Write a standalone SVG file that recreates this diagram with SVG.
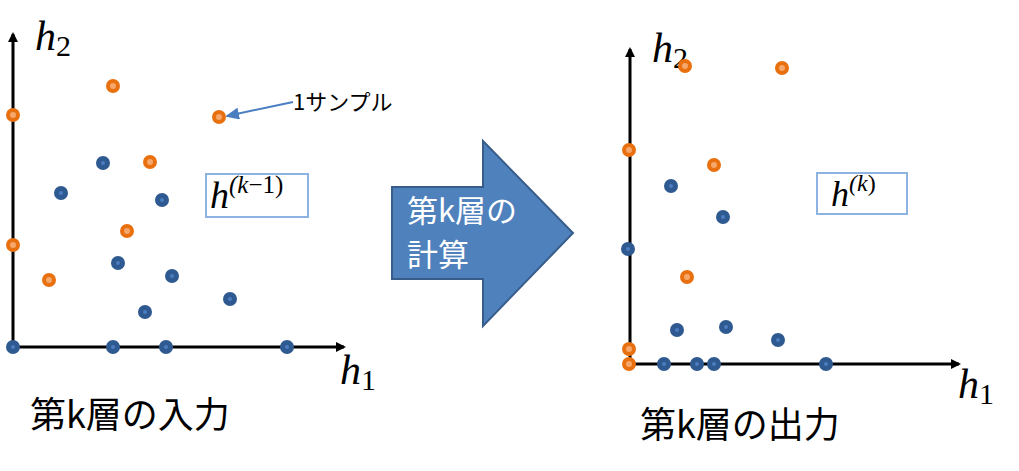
<svg xmlns="http://www.w3.org/2000/svg" width="1019" height="471" viewBox="0 0 1019 471">
<style>
.ax{stroke:#000;stroke-width:3;fill:none}
.o{fill:#F5A76C;stroke:#E8700F;stroke-width:4}
.b{fill:#4C7CC0;stroke:#2F5A91;stroke-width:5}
.m{font-family:"Liberation Serif",serif;font-style:italic;fill:#000}
.j{font-family:"Noto Sans CJK JP",sans-serif;fill:#000}
.w{font-family:"Noto Sans CJK JP",sans-serif;fill:#fff}
.box{fill:#fff;stroke:#8DB3E2;stroke-width:2}
</style>
<defs>
<marker id="ah" markerWidth="10" markerHeight="10" refX="8" refY="5" orient="auto" markerUnits="userSpaceOnUse"><path d="M0,0 L10,5 L0,10 z" fill="#000"/></marker>
<marker id="bh" markerWidth="14" markerHeight="12" refX="12" refY="6" orient="auto" markerUnits="userSpaceOnUse"><path d="M0,0 L14,6 L0,12 z" fill="#4A7EC1"/></marker>
</defs>
<g id="connectors">
<line class="ax" x1="13" y1="348" x2="13" y2="34" marker-end="url(#ah)"/>
<line class="ax" x1="12" y1="347" x2="344" y2="347" marker-end="url(#ah)"/>
<line class="ax" x1="630" y1="366" x2="630" y2="49" marker-end="url(#ah)"/>
<line class="ax" x1="629" y1="364" x2="959" y2="364" marker-end="url(#ah)"/>
<line x1="293" y1="102" x2="227" y2="116" stroke="#4A7EC1" stroke-width="2" marker-end="url(#bh)"/>
</g>
<g id="left-labels">
<text class="m" x="35" y="50" font-size="42">h<tspan font-style="normal" font-size="30" dy="6">2</tspan></text>
<text class="m" x="340" y="384" font-size="42">h<tspan font-style="normal" font-size="30" dy="6">1</tspan></text>
<text class="j" x="293" y="110" font-size="22">1サンプル</text>
</g>
<g id="left-points">
<circle class="o" cx="113" cy="86" r="5"/><circle class="o" cx="13" cy="115" r="5"/><circle class="o" cx="219" cy="117" r="5"/><circle class="o" cx="150" cy="162" r="5"/><circle class="o" cx="127" cy="231" r="5"/><circle class="o" cx="13" cy="245" r="5"/><circle class="o" cx="49" cy="280" r="5"/>
<circle class="b" cx="103" cy="163" r="4.5"/><circle class="b" cx="61" cy="193" r="4.5"/><circle class="b" cx="162" cy="200" r="4.5"/><circle class="b" cx="118" cy="263" r="4.5"/><circle class="b" cx="172" cy="276" r="4.5"/><circle class="b" cx="230" cy="299" r="4.5"/><circle class="b" cx="145" cy="312" r="4.5"/><circle class="b" cx="13" cy="347" r="4.5"/><circle class="b" cx="113" cy="347" r="4.5"/><circle class="b" cx="166" cy="347" r="4.5"/><circle class="b" cx="287" cy="347" r="4.5"/>
</g>
<g id="box-left">
<rect class="box" x="206" y="174" width="102" height="43"/>
<text class="m" x="210" y="208" font-size="38">h<tspan font-size="25" dy="-15">(k</tspan><tspan font-style="normal" font-size="25">−1)</tspan></text>
</g>
<g id="process">
<path d="M392,187 L483,187 L483,141 L573,233 L483,326 L483,279 L392,279 z" fill="#4F81BD" stroke="#385D8A" stroke-width="2"/>
<text class="w" x="407" y="222" font-size="31">第k層の</text>
<text class="w" x="407" y="266" font-size="31">計算</text>
</g>
<g id="right-labels">
<text class="m" x="652" y="62" font-size="42">h<tspan font-style="normal" font-size="30" dy="6">2</tspan></text>
<text class="m" x="958" y="398" font-size="42">h<tspan font-style="normal" font-size="30" dy="6">1</tspan></text>
</g>
<g id="right-points">
<circle class="o" cx="685" cy="66" r="5"/><circle class="o" cx="782" cy="68" r="5"/><circle class="o" cx="629" cy="150" r="5"/><circle class="o" cx="714" cy="165" r="5"/><circle class="o" cx="687" cy="277" r="5"/><circle class="o" cx="629" cy="349" r="5"/><circle class="o" cx="629" cy="364" r="5"/>
<circle class="b" cx="671" cy="186" r="4.5"/><circle class="b" cx="723" cy="217" r="4.5"/><circle class="b" cx="628" cy="249" r="4.5"/><circle class="b" cx="677" cy="330" r="4.5"/><circle class="b" cx="726" cy="327" r="4.5"/><circle class="b" cx="778" cy="340" r="4.5"/><circle class="b" cx="664" cy="364" r="4.5"/><circle class="b" cx="697" cy="364" r="4.5"/><circle class="b" cx="714" cy="364" r="4.5"/><circle class="b" cx="826" cy="364" r="4.5"/>
</g>
<g id="box-right">
<rect class="box" x="817" y="173" width="90" height="41"/>
<text class="m" x="831" y="206" font-size="36">h<tspan font-size="24" dy="-15">(k</tspan><tspan font-style="normal" font-size="24">)</tspan></text>
</g>
<g id="captions">
<text class="j" x="30" y="428" font-size="36">第k層の入力</text>
<text class="j" x="640" y="438" font-size="36">第k層の出力</text>
</g>
</svg>
